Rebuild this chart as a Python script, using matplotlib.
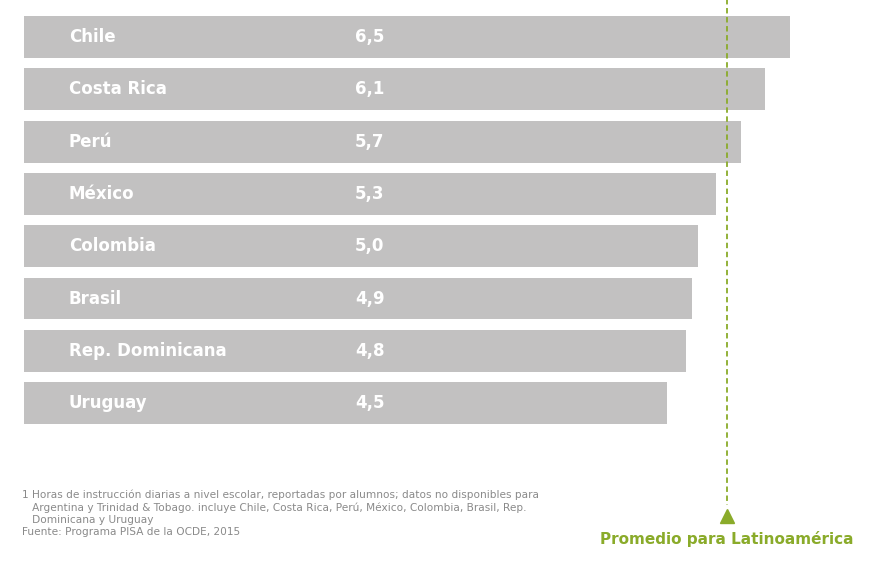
import matplotlib
matplotlib.use("Agg")
import matplotlib.pyplot as plt

countries = ["Chile", "Costa Rica", "Perú", "México", "Colombia", "Brasil",
             "Rep. Dominicana", "Uruguay"]
hours = [6.5, 6.1, 5.7, 5.3, 5.0, 4.9, 4.8, 4.5]
promedio = 5.47

base = -5.96
fig = plt.figure(figsize=(8.78, 5.69), dpi=100)
ax = fig.add_axes([0, 0, 1, 1])
ax.set_xlim(-6.35, 7.93)
ax.set_ylim(10.17, -0.707)
ax.axis("off")

grey = "#c2c1c1"
green = "#8aab2a"
for i, (c, v) in enumerate(zip(countries, hours)):
    ax.barh(i, v - base, left=base, height=0.8, color=grey)
    ax.text(-5.23, i, c, color="white", fontsize=12, fontweight="bold", va="center")
    ax.text(-0.58, i, f"{v:.1f}".replace(".", ","), color="white", fontsize=12,
            fontweight="bold", va="center")

ax.plot([promedio, promedio], [-0.8, 8.95], ls=(0, (3, 2)), color=green, lw=1.3)
ax.plot(promedio, 9.15, marker="^", ms=10, color=green)
ax.text(promedio, 9.6, "Promedio para Latinoamérica", color=green, fontsize=11,
        fontweight="bold", ha="center", va="center")

foot = ("1 Horas de instrucción diarias a nivel escolar, reportadas por alumnos; datos no disponibles para\n"
        "   Argentina y Trinidad & Tobago. incluye Chile, Costa Rica, Perú, México, Colombia, Brasil, Rep.\n"
        "   Dominicana y Uruguay\n"
        "Fuente: Programa PISA de la OCDE, 2015")
fig.text(22 / 878, 1 - 490 / 569, foot, color="#8a8a8a", fontsize=7.6, va="top",
         linespacing=1.25)

fig.savefig("out.png", dpi=100)
